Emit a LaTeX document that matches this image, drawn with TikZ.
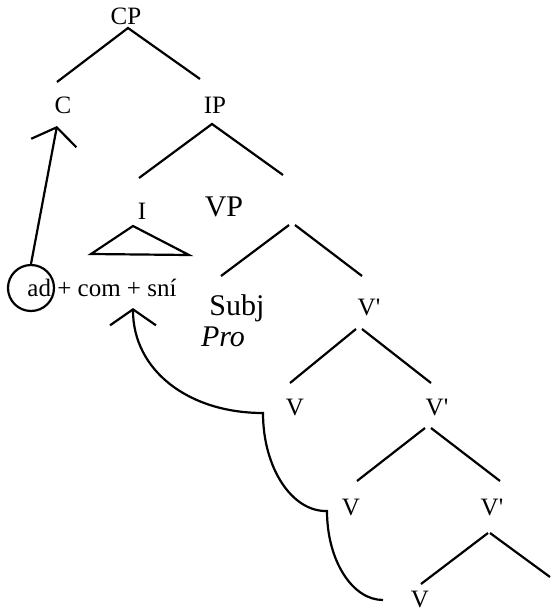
\documentclass[tikz,border=0pt]{standalone}
\usepackage{fontspec}
\setmainfont{Liberation Serif}
\usepackage{tikz}
\usetikzlibrary{arrows.meta}

\tikzset{
	cat/.style={font=\fontsize{25}{29}\selectfont, anchor=base, inner sep=2pt},
	bigcat/.style={font=\fontsize{30}{34}\selectfont, anchor=base, inner sep=2pt},
	branch/.style={line width=2.2pt},
	move/.style={line width=2.2pt, -{Straight Barb[length=16pt,width=46pt]}}
}

\begin{document}
\begin{tikzpicture}[x=1pt,y=-1pt]
		\useasboundingbox (0,0) rectangle (550,613);
		%
		\node[cat] (CP) at (126,24) {CP};
		\node[cat] (C) at (63,113) {C};
		\node[cat] (IP) at (215,113) {IP};
		\node[cat] (I) at (142,219) {I};
		\node[bigcat] (VP) at (224,216) {VP};
		\node[cat] (W) at (102,296) {ad + com + sní};
		\node[bigcat] (Subj) at (237,315) {Subj};
		\node[bigcat, font=\fontsize{30}{34}\selectfont\itshape] (Pro) at (223,346) {Pro};
		\node[cat] (V'1) at (369,315) {V\textquotesingle};
		\node[cat] (V1) at (295,415) {V};
		\node[cat] (V'2) at (437,415) {V\textquotesingle};
		\node[cat] (V2) at (351,515) {V};
		\node[cat] (V'3) at (492,515) {V\textquotesingle};
		\node[cat] (V3) at (420,607) {V};
		\node[draw, circle, line width=2.2pt, minimum size=46pt, inner sep=0pt] (ring) at (31,288) {};
		%
		\coordinate (CP-t) at (128,28);
		\coordinate (CP-l) at (57,82);
		\coordinate (CP-r) at (200,79);
		\coordinate (IP-t) at (212,124);
		\coordinate (IP-l) at (139,178);
		\coordinate (IP-r) at (283,175);
		\coordinate (VP-tl) at (289,225);
		\coordinate (VP-tr) at (295,225);
		\coordinate (VP-l) at (221,276);
		\coordinate (VP-r) at (362,276);
		\coordinate (V'1-tl) at (356,329);
		\coordinate (V'1-tr) at (362,329);
		\coordinate (V'1-l) at (290,383);
		\coordinate (V'1-r) at (431,383);
		\coordinate (V'2-tl) at (425,428);
		\coordinate (V'2-tr) at (431,428);
		\coordinate (V'2-l) at (357,481);
		\coordinate (V'2-r) at (500,481);
		\coordinate (V'3-tl) at (488,533);
		\coordinate (V'3-tr) at (490,533);
		\coordinate (V'3-l) at (421,584);
		\coordinate (V'3-r) at (550,577);
		\coordinate (I-t) at (133,226);
		\coordinate (I-l) at (91,254);
		\coordinate (I-r) at (189,255);
		%
		\draw[branch] (CP-l) -- (CP-t) -- (CP-r);
		\draw[branch] (IP-l) -- (IP-t) -- (IP-r);
		\draw[branch] (VP-l) -- (VP-tl);
		\draw[branch] (VP-tr) -- (VP-r);
		\draw[branch] (V'1-l) -- (V'1-tl);
		\draw[branch] (V'1-tr) -- (V'1-r);
		\draw[branch] (V'2-l) -- (V'2-tl);
		\draw[branch] (V'2-tr) -- (V'2-r);
		\draw[branch] (V'3-l) -- (V'3-tl);
		\draw[branch] (V'3-tr) -- (V'3-r);
		\draw[branch] (I-l) -- (I-t) -- (I-r) -- cycle;
		%
		\coordinate (C-tip) at (57,126);
		\coordinate (W-tip) at (133,308);
		\coordinate (V1-tr) at (263,413);
		\coordinate (V2-tr) at (327,511);
		\coordinate (V3-tr) at (383,600);
		%
		\draw[move] (ring.north) -- (C-tip);
		\draw[move] (V3-tr) .. controls (352,600) and (327,560) .. (V2-tr)
			.. controls (292,512) and (263,468) .. (V1-tr)
			.. controls (188,413) and (133,370) .. (W-tip);
	\end{tikzpicture}
\end{document}
